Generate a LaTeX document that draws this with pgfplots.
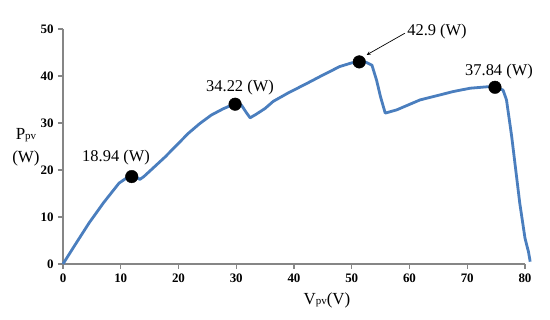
\documentclass[border=0pt]{standalone}
\usepackage{pgfplots}
\pgfplotsset{compat=1.18}
\usepackage{fontspec}
\setmainfont{Liberation Serif}
\definecolor{curveblue}{RGB}{74,126,190}
\definecolor{axgray}{RGB}{134,134,134}
\newcommand{\sub}[1]{\raisebox{-0.5pt}{\fontsize{11}{11}\selectfont #1}}
\begin{document}
\begin{tikzpicture}
\path[use as bounding box] (-63bp,-56bp) rectangle (487bp,264bp);
\begin{axis}[
  at={(0,0)}, anchor=south west,
  scale only axis, width=462bp, height=235bp,
  xmin=0, xmax=80, ymin=0, ymax=50,
  axis lines=left,
  axis line style={-, draw=axgray, line width=1.6bp},
  xtick={0,10,...,80}, ytick={0,10,...,50},
  tick style={draw=axgray, line width=1.2bp},
  tick align=outside,
  major tick length=5bp,
  tick label style={font=\fontsize{13}{13}\selectfont\bfseries},
  /pgf/number format/assume math mode=true,
  xticklabel style={yshift=-1bp},
  yticklabel style={xshift=-1bp},
  clip=false,
]
\addplot[curveblue, line width=2.8bp, line join=round, mark=none] coordinates {
(0,0) (2,3.9) (4.5,8.7) (7,13.0) (9.7,17.2) (11.0,18.3) (11.9,18.7) (12.6,18.6)
(13.3,18.0) (14,18.6) (15.5,20.3) (17.7,22.8) (19.7,25.3) (21.7,27.8) (23.7,29.9)
(25.7,31.7) (27.7,33.0) (29.0,33.7) (29.8,34.1) (30.9,33.8) (31.7,32.3) (32.4,31.1)
(33.5,31.9) (35.0,33.1) (36.4,34.6) (39,36.4) (42.2,38.4) (45,40.2) (47.9,42.0)
(50,42.8) (51.3,43.0) (52.5,42.9) (53.5,42.3) (54.3,39.1) (55.0,35.5) (55.8,32.1)
(57.8,32.8) (61.8,34.9) (64.7,35.8) (67.6,36.7) (70.5,37.4) (73.4,37.7) (74.8,37.7)
(76.2,37.0) (76.8,34.9) (77.7,27.1) (79.1,12.9) (80.0,5.5) (80.6,2.6) (80.9,0.5)
};
\addplot[only marks, mark=*, mark size=6.3bp, black] coordinates {
(11.9,18.6) (29.8,34.0) (51.3,43.0) (74.8,37.6)
};
\node[font=\fontsize{16.5}{17}\selectfont] at (axis cs:9.18,22.55) {18.94 (W)};
\node[font=\fontsize{16.5}{17}\selectfont] at (axis cs:30.65,37.45) {34.22 (W)};
\node[font=\fontsize{16.5}{17}\selectfont] at (axis cs:64.76,49.36) {42.9 (W)};
\node[font=\fontsize{16.5}{17}\selectfont] at (axis cs:75.5,40.85) {37.84 (W)};
\draw[-stealth, line width=0.7bp] (axis cs:59.2,49.1) -- (axis cs:52.6,44.5);
\node[font=\fontsize{17}{17}\selectfont] at (axis cs:-6.41,27.45) {P\sub{pv}};
\node[font=\fontsize{17}{17}\selectfont] at (axis cs:-6.41,22.55) {(W)};
\node[font=\fontsize{17}{17}\selectfont] at (axis cs:45.7,-7.66) {V\sub{pv}(V)};
\end{axis}
\end{tikzpicture}
\end{document}
